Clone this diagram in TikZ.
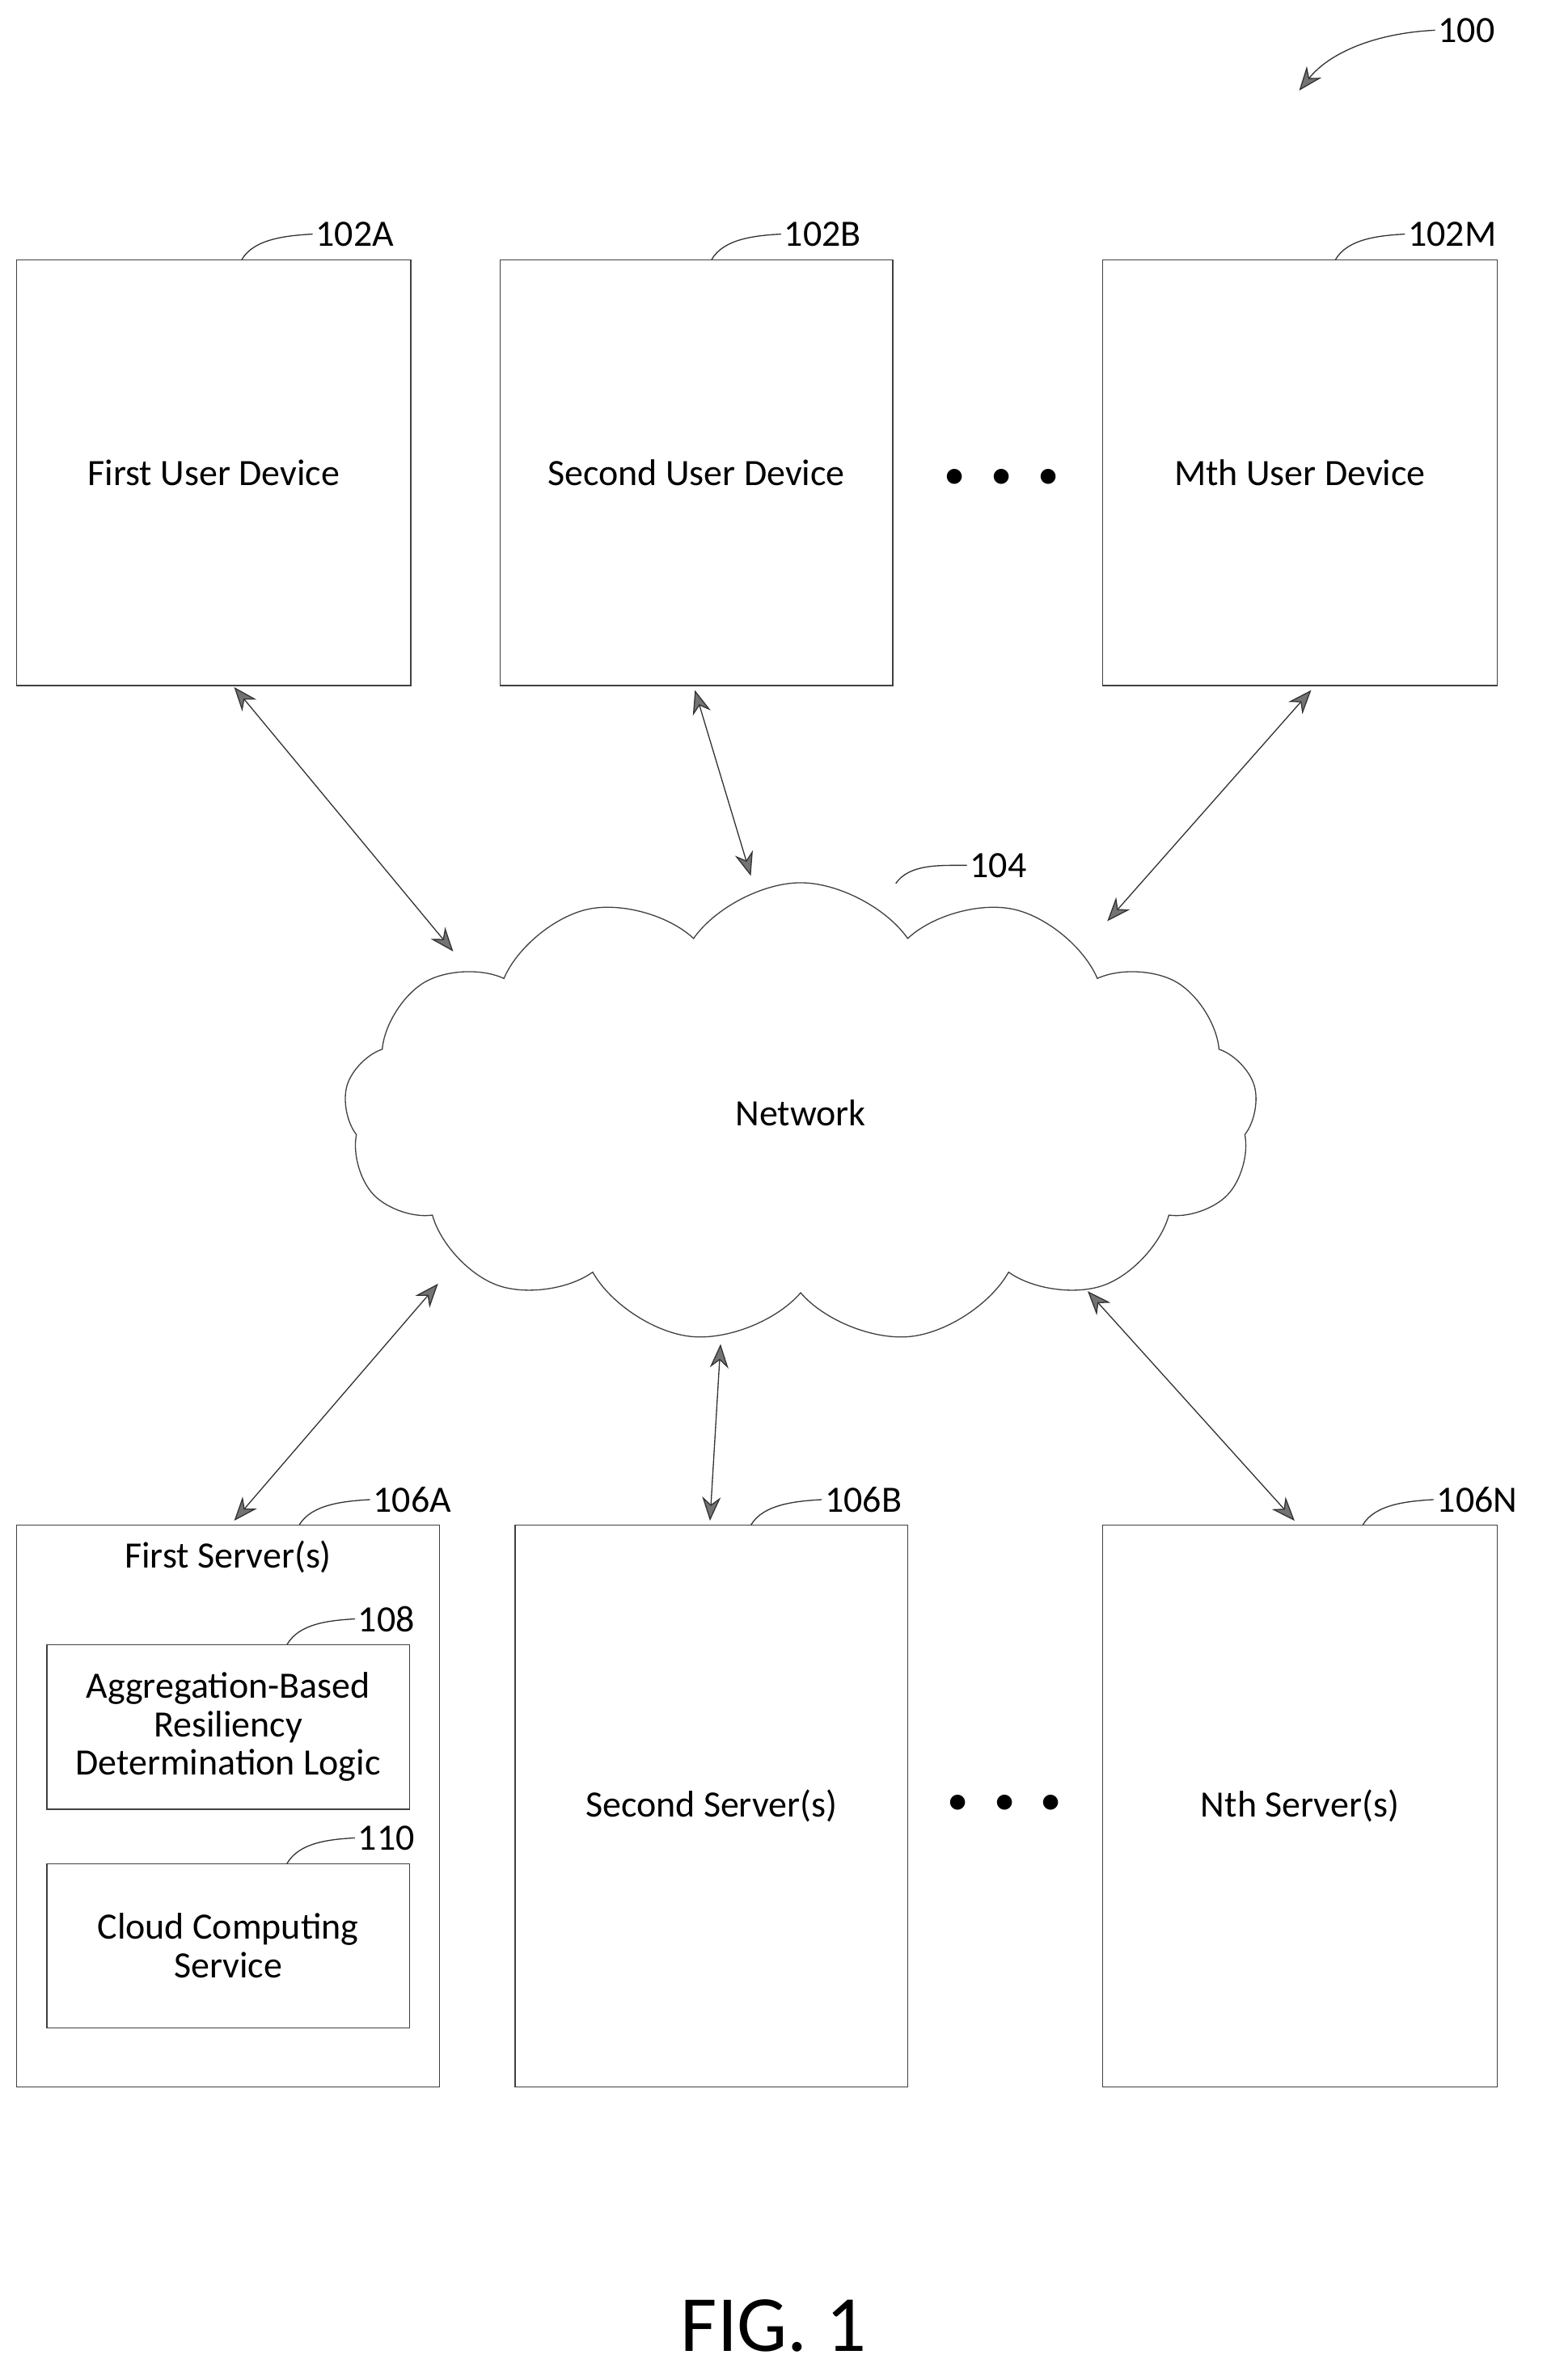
\documentclass[tikz,border=0pt]{standalone}
\usepackage{fontspec}
\setmainfont{Carlito}
\usetikzlibrary{arrows.meta,shapes.symbols}
\begin{document}
\begin{tikzpicture}[x=0.02cm,y=-0.02cm,
	box/.style={draw=black!75,thin,inner sep=0pt,align=center,font=\fontsize{14}{14}\selectfont},
	link/.style={draw=black!80,thin,{Stealth[length=9pt,width=7pt,fill=black!55]}-{Stealth[length=9pt,width=7pt,fill=black!55]}},
	lead/.style={draw=black!80,thin},
	dots/.style={font=\fontsize{16}{16}\selectfont},
	num/.style={font=\fontsize{14}{14}\selectfont,anchor=west,inner sep=1pt}]
	\useasboundingbox (0,0) rectangle (1024,1576);

	% user devices
	\node[box,minimum width=5.22cm,minimum height=5.64cm] (dev1) at (141.5,313) {First User Device};
	\node[box,minimum width=5.2cm,minimum height=5.64cm] (dev2) at (461,313) {Second User Device};
	\node[box,minimum width=5.22cm,minimum height=5.64cm] (devm) at (860.5,313) {Mth User Device};
	\node[dots] (dotsa) at (663,317) {\textbullet\hspace{0.6em}\textbullet\hspace{0.6em}\textbullet};

	% network
	\node[box,cloud,cloud puffs=13,cloud puff arc=110,aspect=2,minimum width=12.1cm,minimum height=6.1cm] (net) at (530,737) {Network};

	% servers
	\node[box,minimum width=5.6cm,minimum height=7.44cm] (srv1) at (151,1196) {};
	\node[inner sep=0pt,font=\fontsize{14}{14}\selectfont,anchor=north] (srv1t) at (151,1020) {First Server(s)};
	\node[box,minimum width=4.8cm,minimum height=2.18cm,font=\fontsize{14}{14.5}\selectfont] (logic) at (151,1143.5) {Aggregation-Based\\Resiliency\\Determination Logic};
	\node[box,minimum width=4.8cm,minimum height=2.18cm,font=\fontsize{14}{14.5}\selectfont] (cloudsvc) at (151,1288.5) {Cloud Computing\\Service};
	\node[box,minimum width=5.2cm,minimum height=7.44cm] (srv2) at (471,1196) {Second Server(s)};
	\node[box,minimum width=5.22cm,minimum height=7.44cm] (srvn) at (860.5,1196) {Nth Server(s)};
	\node[dots] (dotsb) at (665,1195) {\textbullet\hspace{0.6em}\textbullet\hspace{0.6em}\textbullet};

	% connectors
	\coordinate (n1) at (300,630);
	\coordinate (n2) at (497,580);
	\coordinate (nm) at (733,610);
	\coordinate (s1) at (290,850);
	\coordinate (s2) at (477,890);
	\coordinate (sn) at (720,855);
	\coordinate (d1) at (155,455);
	\coordinate (d2) at (460,457);
	\coordinate (dm) at (868,457);
	\coordinate (t1) at (155,1007);
	\coordinate (t2) at (470,1007);
	\coordinate (tn) at (857,1007);
	\draw[link] (d1) -- (n1);
	\draw[link] (d2) -- (n2);
	\draw[link] (dm) -- (nm);
	\draw[link] (s1) -- (t1);
	\draw[link] (s2) -- (t2);
	\draw[link] (sn) -- (tn);

	% reference numerals
	\draw[lead] (160,172) .. controls (168,158) and (190,156) .. (207,155) node[num] (l102a) {102A};
	\draw[lead] (471,172) .. controls (479,158) and (500,156) .. (517,155) node[num] (l102b) {102B};
	\draw[lead] (884,172) .. controls (892,158) and (913,156) .. (930,155) node[num] (l102m) {102M};
	\draw[lead] (593,585) .. controls (602,572) and (622,573) .. (640,573) node[num] (l104) {104};
	\draw[lead] (198,1010) .. controls (206,996) and (228,994) .. (245,993) node[num] (l106a) {106A};
	\draw[lead] (497,1010) .. controls (505,996) and (527,994) .. (544,993) node[num] (l106b) {106B};
	\draw[lead] (902,1010) .. controls (910,996) and (932,994) .. (949,993) node[num] (l106n) {106N};
	\draw[lead] (190,1089) .. controls (198,1075) and (218,1073) .. (235,1072) node[num] (l108) {108};
	\draw[lead] (190,1234) .. controls (198,1220) and (218,1218) .. (235,1217) node[num] (l110) {110};
	\node[num] (l100) at (950,20) {100};
	\draw[lead,-{Stealth[length=9pt,width=7pt,fill=black!55]}] (l100.west) .. controls (910,22) and (880,35) .. (860,60);

	\node[font=\fontsize{30}{30}\selectfont] (fig) at (512,1540) {FIG. 1};
\end{tikzpicture}
\end{document}
